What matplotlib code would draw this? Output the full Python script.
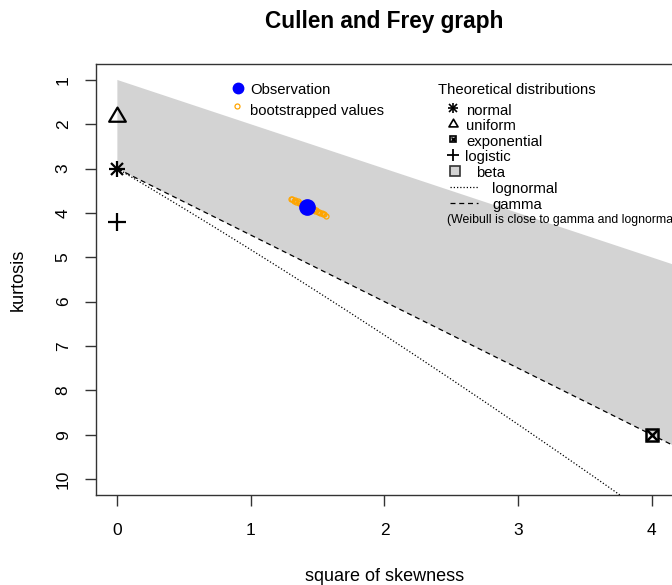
import numpy as np
import matplotlib
matplotlib.use("Agg")
import matplotlib.pyplot as plt
from matplotlib.path import Path

plt.rcParams['font.family'] = ['Liberation Sans', 'DejaVu Sans']

# ---- data ----
obs_skew2 = [1.42]
obs_kurt = [3.86]
boot_skew2 = [1.30, 1.31, 1.32, 1.33, 1.34, 1.35, 1.36, 1.37, 1.38, 1.39, 1.40, 1.42,
              1.44, 1.45, 1.46, 1.47, 1.48, 1.49, 1.50, 1.51, 1.52, 1.53, 1.54, 1.55, 1.56]
boot_kurt = [3.69, 3.69, 3.72, 3.71, 3.75, 3.74, 3.78, 3.77, 3.80, 3.81, 3.83, 3.85,
             3.89, 3.89, 3.92, 3.91, 3.95, 3.94, 3.97, 3.98, 4.00, 3.99, 4.03, 4.02, 4.06]
dist_names = ["normal", "uniform", "exponential", "logistic"]
dist_skew2 = [0, 0, 4, 0]
dist_kurt = [3, 1.8, 9, 4.2]
x_ticks = [0, 1, 2, 3, 4]
y_ticks = [1, 2, 3, 4, 5, 6, 7, 8, 9, 10]

# theoretical curves (as in fitdistrplus::descdist)
s2_grid = np.linspace(0, 6, 400)
beta_upper = 1 + s2_grid
gamma_kurt = 3 + 1.5 * s2_grid
lnorm_sigma2 = np.linspace(1e-6, 1.0, 400)
e = np.exp(lnorm_sigma2)
lnorm_s2 = (e + 2) ** 2 * (e - 1)
lnorm_kurt = e ** 4 + 2 * e ** 3 + 3 * e ** 2 - 3

W, H = 672, 585
fig = plt.figure(figsize=(W / 100, H / 100), dpi=100)
L, R, T, B = 96, 673, 64, 495
ax = fig.add_axes([L / W, 1 - B / H, (R - L) / W, (B - T) / H])

def fx(px):
    return px / W

def fy(py):
    return 1 - py / H

ax.fill_between(s2_grid, beta_upper, gamma_kurt, color='#D3D3D3', lw=0, zorder=1)
ax.plot(s2_grid, gamma_kurt, color='black', lw=0.9, dashes=(4, 3), zorder=2)
ax.plot(lnorm_s2, lnorm_kurt, color='black', lw=0.9, dashes=(1, 1.6), zorder=2)

# theoretical points
tri = Path([(-1, -0.75), (1, -0.75), (0, 0.95), (-1, -0.75)],
           [Path.MOVETO, Path.LINETO, Path.LINETO, Path.CLOSEPOLY])
mk = dict(color='black', clip_on=False, zorder=5, ls='none')
# normal: asterisk
ax.plot(dist_skew2[0], dist_kurt[0], marker='+', ms=12, mew=1.6, **mk)
ax.plot(dist_skew2[0], dist_kurt[0], marker='x', ms=9, mew=1.6, **mk)
# uniform: triangle
ax.plot(dist_skew2[1], dist_kurt[1], marker=tri, ms=12, mew=1.6, mfc='none', **mk)
# exponential: square with cross
ax.plot(dist_skew2[2], dist_kurt[2], marker='s', ms=8, mew=1.8, mfc='none', **mk)
ax.plot(dist_skew2[2], dist_kurt[2], marker='x', ms=8, mew=1.8, **mk)
# logistic: plus
ax.plot(dist_skew2[3], dist_kurt[3], marker='+', ms=13, mew=1.6, **mk)

# bootstrap + observation
ax.plot(boot_skew2, boot_kurt, ls='none', marker='o', ms=3.6, mfc='none',
        mec='#FFA500', mew=0.9, zorder=6)
ax.plot(obs_skew2, obs_kurt, ls='none', marker='o', ms=11, color='#0000FF', zorder=7)

ax.set_xlim(-0.16, 4.16)
ax.set_ylim(10.36, 0.64)
ax.set_xticks(x_ticks)
ax.set_xticklabels([str(v) for v in x_ticks])
ax.set_yticks(y_ticks)
ax.set_yticklabels([str(v) for v in y_ticks], rotation=90, va='center')
ax.tick_params(axis='both', length=7.7, width=1, color='#333333', labelsize=12.5)
ax.tick_params(axis='x', pad=12.5)
ax.tick_params(axis='y', pad=10.5)
for s in ax.spines.values():
    s.set_color('#333333')
    s.set_linewidth(1)

# titles / axis labels
fig.text(fx((L + R) / 2), fy(28), "Cullen and Frey graph", ha='center', va='baseline',
         fontsize=16.3, fontweight='bold')
fig.text(fx((L + R) / 2), fy(581), "square of skewness", ha='center', va='baseline',
         fontsize=13)
fig.text(fx(18), fy((T + B) / 2), "kurtosis", ha='center', va='center', rotation=90,
         fontsize=13)

# left legend
lg = dict(transform=fig.transFigure, clip_on=False, ls='none')
ax.plot([fx(238)], [fy(87.5)], marker='o', ms=7.5, color='#0000FF', **lg)
ax.plot([fx(237)], [fy(106)], marker='o', ms=3.6, mfc='none', mec='#FFA500', mew=0.9, **lg)
fig.text(fx(250), fy(94), "Observation", ha='left', va='baseline', fontsize=10.7)
fig.text(fx(250), fy(114.5), "bootstrapped values", ha='left', va='baseline', fontsize=10.7)

# right legend
fig.text(fx(438), fy(94), "Theoretical distributions", ha='left', va='baseline', fontsize=10.7)
mx = 453
ax.plot([fx(mx)], [fy(108)], marker='+', ms=7, mew=1.2, color='black', **lg)
ax.plot([fx(mx)], [fy(108)], marker='x', ms=5.5, mew=1.2, color='black', **lg)
ax.plot([fx(mx)], [fy(122.5)], marker=tri, ms=6.5, mew=1.2, mfc='none', color='black', **lg)
ax.plot([fx(mx)], [fy(138.5)], marker='s', ms=5, mew=1.2, mfc='#bbbbbb', color='black', **lg)
ax.plot([fx(mx)], [fy(138.5)], marker='x', ms=3.5, mew=1.0, color='black', **lg)
ax.plot([fx(mx)], [fy(155)], marker='+', ms=9, mew=1.3, color='black', **lg)
ax.plot([fx(455)], [fy(170.5)], marker='s', ms=7, mew=1.2, mfc='#D3D3D3', color='#333333', **lg)
ax.plot([fx(450), fx(478)], [fy(187), fy(187)], color='black', lw=0.9, dashes=(1, 1.6),
        transform=fig.transFigure, clip_on=False)
ax.plot([fx(450), fx(478)], [fy(203), fy(203)], color='black', lw=0.9, dashes=(4, 3),
        transform=fig.transFigure, clip_on=False)
legend_texts = [(466, 115, "normal"), (466, 130.5, "uniform"), (466, 146, "exponential"),
                (465, 161.5, "logistic"), (476, 177, "beta"), (492, 193, "lognormal"),
                (492, 209, "gamma")]
for px, py, t in legend_texts:
    fig.text(fx(px), fy(py), t, ha='left', va='baseline', fontsize=10.7)
fig.text(fx(447), fy(223), "(Weibull is close to gamma and lognormal)", ha='left',
         va='baseline', fontsize=8.8)

fig.savefig("out.png", dpi=100)
